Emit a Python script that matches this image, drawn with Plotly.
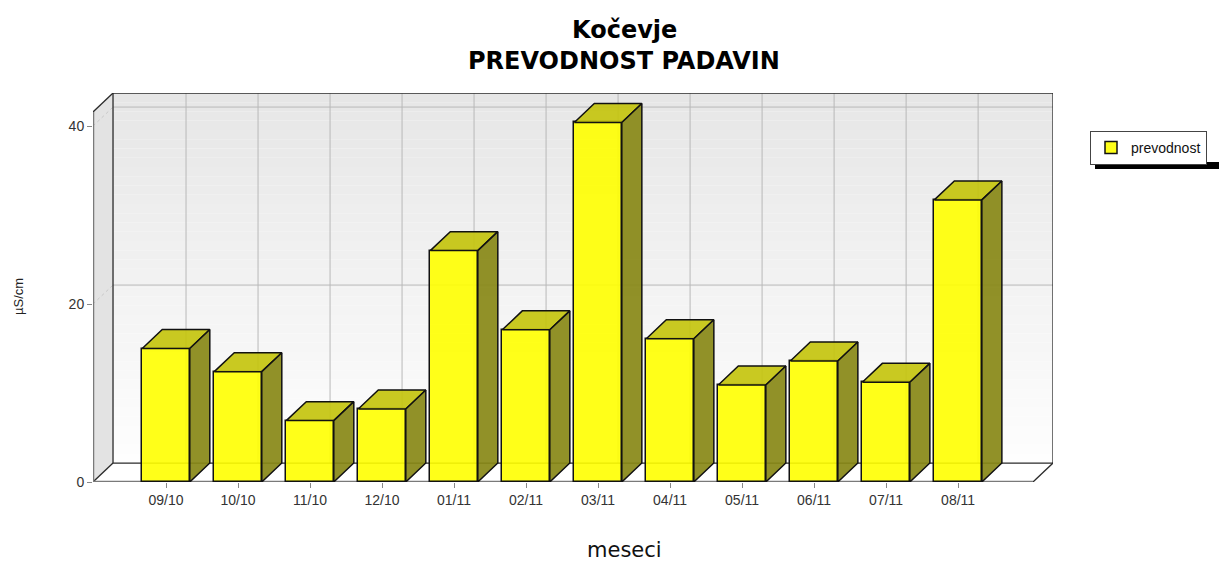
import plotly.graph_objects as go

# Monthly precipitation conductivity, Kočevje
months = ["09/10", "10/10", "11/10", "12/10", "01/11", "02/11",
          "03/11", "04/11", "05/11", "06/11", "07/11", "08/11"]
prevodnost = [15.0, 12.4, 6.9, 8.2, 26.0, 17.1, 40.4, 16.1, 10.9, 13.6, 11.2, 31.7]

W, H = 1219, 563
# plot area in pixels (front-left corner of the 3D box at (93, 482))
PL, PR, PT, PB = 93, 1053, 93, 482

idx = list(range(len(months)))
BAR_W = 0.66          # bar width in category units
XL, XR = -1.014, 12.04  # front face of the box, category units
DX, DY = 0.278, 2.13    # depth offset (x in category units, y in value units)
YTOP = 43.71            # value at the top of the back wall


def px_x(px):
    return (px - PL) / (PR - PL)


def px_y(py):
    return (PB - py) / (PB - PT)


fig = go.Figure()

# front faces of the bars
fig.add_trace(go.Bar(
    x=idx, y=prevodnost, width=BAR_W, name="prevodnost",
    marker=dict(color="rgba(255,255,0,0.9)", line=dict(color="#111", width=1.5)),
    showlegend=True, hoverinfo="x+y",
))

# top and side faces derived from each bar's value
for i, v in zip(idx, prevodnost):
    x0, x1 = i - BAR_W / 2, i + BAR_W / 2
    fig.add_trace(go.Scatter(
        x=[x0, x0 + DX, x1 + DX, x1, x0], y=[v, v + DY, v + DY, v, v],
        mode="lines", fill="toself", fillcolor="rgba(196,196,14,0.92)",
        line=dict(color="#111", width=1.5), showlegend=False, hoverinfo="skip"))
    fig.add_trace(go.Scatter(
        x=[x1, x1 + DX, x1 + DX, x1, x1], y=[0, DY, v + DY, v, 0],
        mode="lines", fill="toself", fillcolor="rgba(136,136,22,0.92)",
        line=dict(color="#111", width=1.5), showlegend=False, hoverinfo="skip"))

shapes = []
# back wall with a vertical grey-to-white gradient
N = 40
for k in range(N):
    y0 = DY + (YTOP - DY) * k / N
    y1 = DY + (YTOP - DY) * (k + 1) / N
    t = (k + 0.5) / N
    c = int(round(254 - 24 * t))
    shapes.append(dict(type="rect", xref="x", yref="y", layer="below",
                       x0=XL + DX, x1=XR + DX, y0=y0, y1=y1,
                       fillcolor=f"rgb({c},{c},{c})", line=dict(width=0)))
# left wall
shapes.append(dict(type="path", xref="x", yref="y", layer="below",
                   path=f"M{XL},0 L{XL+DX},{DY} L{XL+DX},{YTOP} L{XL},{YTOP-DY} Z",
                   fillcolor="#e3e3e3", line=dict(width=0)))
# floor
shapes.append(dict(type="path", xref="x", yref="y", layer="below",
                   path=f"M{XL},0 L{XR},0 L{XR+DX},{DY} L{XL+DX},{DY} Z",
                   fillcolor="#ffffff", line=dict(width=0)))

grid = "#b8b8b8"
# value gridlines on the back wall and the left wall
for g in [20, 40]:
    shapes.append(dict(type="line", xref="x", yref="y", layer="below",
                       x0=XL + DX, x1=XR + DX, y0=g + DY, y1=g + DY,
                       line=dict(color=grid, width=1)))
    shapes.append(dict(type="line", xref="x", yref="y", layer="below",
                       x0=XL, x1=XL + DX, y0=g, y1=g + DY,
                       line=dict(color="#c8c8c8", width=1, dash="dot")))
# category gridlines on the back wall
for i in idx:
    shapes.append(dict(type="line", xref="x", yref="y", layer="below",
                       x0=i + DX, x1=i + DX, y0=DY, y1=YTOP,
                       line=dict(color=grid, width=1)))

edge = "#2a2a2a"
# box outlines
for (xa, ya, xb, yb) in [
    (XL + DX, DY, XR + DX, DY),          # back bottom edge
    (XL + DX, DY, XL + DX, YTOP),        # back left edge
    (XL + DX, YTOP, XR + DX, YTOP),      # back top edge
    (XR + DX, DY, XR + DX, YTOP),        # back right edge
    (XL, YTOP - DY, XL + DX, YTOP),      # left wall top
    (XL, 0, XL + DX, DY),                # floor left
    (XR, 0, XR + DX, DY),                # floor right
]:
    shapes.append(dict(type="line", xref="x", yref="y", layer="below",
                       x0=xa, x1=xb, y0=ya, y1=yb, line=dict(color=edge, width=1.3)))
# front axis lines
shapes.append(dict(type="line", xref="x", yref="y", layer="below",
                   x0=XL, x1=XR, y0=0, y1=0, line=dict(color="#7a7a7a", width=2.5)))
shapes.append(dict(type="line", xref="x", yref="y", layer="below",
                   x0=XL, x1=XL, y0=0, y1=YTOP - DY, line=dict(color="#7a7a7a", width=2.5)))

# legend box position (pixels) and its drop shadow
LX0, LY0 = 1090, 131
LEG_BOTTOM = 164
shapes.append(dict(type="rect", xref="paper", yref="paper", layer="below",
                   x0=px_x(LX0 + 5), x1=px_x(W + 10),
                   y0=px_y(LEG_BOTTOM + 5), y1=px_y(LEG_BOTTOM - 2),
                   fillcolor="#000", line=dict(width=0)))

title_font = dict(family="DejaVu Sans", size=24, color="#000")
annotations = [
    dict(text="<b>Kočevje</b>", xref="paper", yref="paper",
         x=px_x(624), y=px_y(30), xanchor="center", yanchor="middle",
         showarrow=False, font=title_font),
    dict(text="<b>PREVODNOST PADAVIN</b>", xref="paper", yref="paper",
         x=px_x(624), y=px_y(61), xanchor="center", yanchor="middle",
         showarrow=False, font=title_font),
    dict(text="meseci", xref="paper", yref="paper",
         x=px_x(624), y=px_y(550), xanchor="center", yanchor="middle",
         showarrow=False, font=dict(family="DejaVu Sans", size=21, color="#111")),
    dict(text="µS/cm", xref="paper", yref="paper",
         x=px_x(18), y=px_y(297), xanchor="center", yanchor="middle",
         showarrow=False, textangle=-90,
         font=dict(family="Liberation Sans", size=13, color="#222")),
]

fig.update_layout(
    width=W, height=H,
    margin=dict(l=PL, r=W - PR, t=PT, b=H - PB, autoexpand=False),
    paper_bgcolor="white", plot_bgcolor="rgba(0,0,0,0)",
    xaxis=dict(range=[XL, XR + DX], tickvals=idx, ticktext=months,
               showgrid=False, zeroline=False, showline=False,
               ticks="outside", ticklen=5, tickcolor="#888",
               tickfont=dict(family="Liberation Sans", size=14, color="#333")),
    yaxis=dict(range=[0, YTOP], tickvals=[0, 20, 40],
               showgrid=False, zeroline=False, showline=False,
               ticks="outside", ticklen=5, tickcolor="#888",
               tickfont=dict(family="Liberation Sans", size=14, color="#333")),
    legend=dict(xref="container", yref="container",
                x=LX0 / W, xanchor="left", y=1 - LY0 / H, yanchor="top",
                bgcolor="white", bordercolor="#444", borderwidth=1,
                font=dict(family="Liberation Sans", size=14, color="#111"),
                itemwidth=30, entrywidth=110, tracegroupgap=0),
    shapes=shapes, annotations=annotations,
    bargap=0,
)

fig.write_html("out.html")
